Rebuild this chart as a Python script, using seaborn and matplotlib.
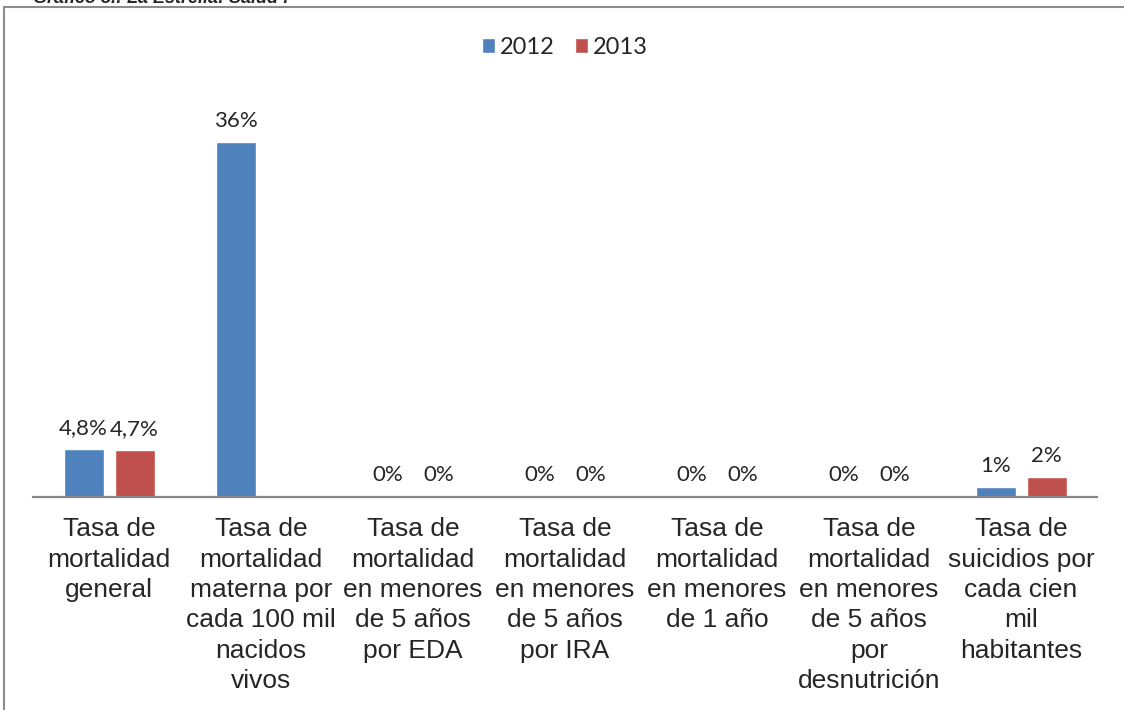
import numpy as np
import pandas as pd
import matplotlib.pyplot as plt
import seaborn as sns
from matplotlib.patches import Rectangle

# Datos del gráfico (tasas en %)
categorias = [
    "Tasa de\nmortalidad\ngeneral",
    "Tasa de\nmortalidad\nmaterna por\ncada 100 mil\nnacidos\nvivos",
    "Tasa de\nmortalidad\nen menores\nde 5 años\npor EDA",
    "Tasa de\nmortalidad\nen menores\nde 5 años\npor IRA",
    "Tasa de\nmortalidad\nen menores\nde 1 año",
    "Tasa de\nmortalidad\nen menores\nde 5 años\npor\ndesnutrición",
    "Tasa de\nsuicidios por\ncada cien\nmil\nhabitantes",
]
anios = ["2012", "2013"]
valores_2012 = [4.8, 36, 0, 0, 0, 0, 1]
valores_2013 = [4.7, np.nan, 0, 0, 0, 0, 2]
titulo = "Gráfico 8.: La Estrella: Salud :"

df = pd.DataFrame({
    "Categoria": categorias * 2,
    "Anio": [anios[0]] * len(categorias) + [anios[1]] * len(categorias),
    "Tasa": valores_2012 + valores_2013,
}).dropna()

sns.set_style("white")
plt.rcParams['font.family'] = ['Liberation Sans', 'DejaVu Sans']

fig = plt.figure(figsize=(11.24, 7.1), dpi=100)
ax = fig.add_axes([0.0294, 0.3007, 0.9466, 0.555])

sns.barplot(data=df, x="Categoria", y="Tasa", hue="Anio", order=categorias,
            hue_order=anios, palette=["#4F81BD", "#C0504D"], saturation=1,
            width=0.671, gap=0.216, ax=ax)

ax.set_ylim(0, 40)
ax.set_xlim(-0.5, len(categorias) - 0.5)
ax.set_xlabel("")
ax.set_ylabel("")
ax.set_yticks([])
ax.tick_params(axis='x', length=0, pad=15, labelsize=19)
for lbl in ax.get_xticklabels():
    lbl.set_linespacing(1.335)

for s in ["top", "left", "right"]:
    ax.spines[s].set_visible(False)
ax.spines["bottom"].set_color("#868686")
ax.spines["bottom"].set_linewidth(1.6)

fmt = lambda v: f"{v:g}".replace(".", ",") + "%"
for cont in ax.containers:
    ax.bar_label(cont, fmt=fmt, padding=8, fontsize=16, family="Lato")

ax.legend(loc="center", bbox_to_anchor=(0.5, 1.14), ncol=2, frameon=False,
          prop={"family": "Lato", "size": 17}, handlelength=0.55,
          handleheight=0.55, handletextpad=0.2, columnspacing=0.85)

# marco exterior y título recortado
fig.patches.append(Rectangle((4 / 1124, -0.05), 1.1, 1.05 - 7 / 710,
                             transform=fig.transFigure, fill=False,
                             edgecolor="#8c8c8c", linewidth=1.5, clip_on=False))
fig.text(33 / 1124, 1 - 3 / 710, titulo, fontsize=13, fontweight="bold",
         fontstyle="italic", va="baseline", ha="left")

fig.savefig("out.png", dpi=100)
